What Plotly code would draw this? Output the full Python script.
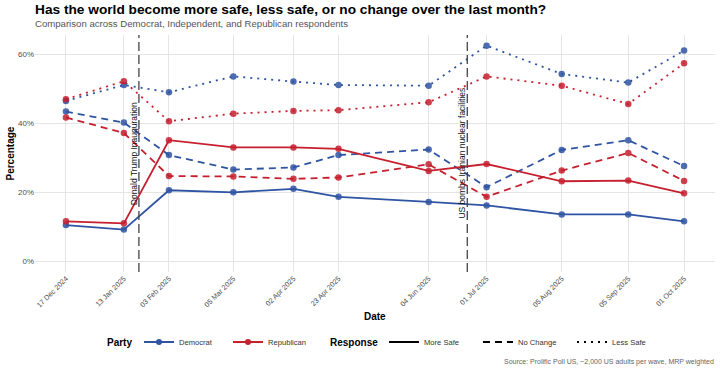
import plotly.graph_objects as go

dates = ["2024-12-17", "2025-01-13", "2025-02-03", "2025-03-05", "2025-04-02", "2025-04-23",
         "2025-06-04", "2025-07-01", "2025-08-05", "2025-09-05", "2025-10-01"]
tick_labels = ["17 Dec 2024", "13 Jan 2025", "03 Feb 2025", "05 Mar 2025", "02 Apr 2025", "23 Apr 2025",
               "04 Jun 2025", "01 Jul 2025", "05 Aug 2025", "05 Sep 2025", "01 Oct 2025"]

dem_more_safe = [10.5, 9.2, 20.6, 20.0, 21.0, 18.7, 17.2, 16.2, 13.6, 13.6, 11.6]
dem_no_change = [43.4, 40.2, 30.8, 26.6, 27.2, 30.8, 32.4, 21.5, 32.3, 35.1, 27.6]
dem_less_safe = [46.5, 51.1, 49.0, 53.6, 52.1, 51.1, 50.9, 62.5, 54.3, 51.8, 61.1]

rep_more_safe = [11.6, 11.0, 35.1, 33.0, 33.0, 32.6, 26.2, 28.2, 23.2, 23.4, 19.7]
rep_no_change = [41.7, 37.2, 24.7, 24.6, 23.9, 24.3, 28.1, 18.7, 26.3, 31.4, 23.3]
rep_less_safe = [47.0, 52.2, 40.6, 42.8, 43.6, 43.8, 46.1, 53.6, 50.9, 45.6, 57.4]

events = [("2025-01-20", "Donald Trump Inauguration"),
          ("2025-06-22", "US bombs Iranian nuclear facilities")]

BLUE = "#2F54A3"
RED = "#C61F2E"
BLUE_M = "rgba(47,84,163,0.85)"
RED_M = "rgba(198,31,46,0.85)"
FONT = "Liberation Sans, Arial, sans-serif"

dash_map = {"More Safe": "solid", "No Change": "7px,5px", "Less Safe": "2px,5px"}

fig = go.Figure()

series = [
    ("Democrat", "More Safe", dem_more_safe, BLUE, BLUE_M),
    ("Democrat", "No Change", dem_no_change, BLUE, BLUE_M),
    ("Democrat", "Less Safe", dem_less_safe, BLUE, BLUE_M),
    ("Republican", "More Safe", rep_more_safe, RED, RED_M),
    ("Republican", "No Change", rep_no_change, RED, RED_M),
    ("Republican", "Less Safe", rep_less_safe, RED, RED_M),
]

for party, resp, vals, col, mcol in series:
    fig.add_trace(go.Scatter(
        x=dates, y=vals, mode="lines",
        line=dict(color=col, width=1.8, dash=dash_map[resp]),
        showlegend=False, hoverinfo="skip"))
for party, resp, vals, col, mcol in series:
    fig.add_trace(go.Scatter(
        x=dates, y=vals, mode="markers",
        marker=dict(color=mcol, size=6.5, line=dict(width=0)),
        showlegend=False, name=f"{party} - {resp}"))

for party, col in [("Democrat", BLUE), ("Republican", RED)]:
    fig.add_trace(go.Scatter(
        x=[None], y=[None], mode="lines+markers", name=party,
        line=dict(color=col, width=1.8), marker=dict(color=col, size=6),
        legend="legend"))
for resp in ["More Safe", "No Change", "Less Safe"]:
    fig.add_trace(go.Scatter(
        x=[None], y=[None], mode="lines", name=resp,
        line=dict(color="black", width=1.8, dash=dash_map[resp]),
        legend="legend2"))

for d, label in events:
    fig.add_shape(type="line", x0=d, x1=d, xref="x", y0=0, y1=1, yref="paper",
                  line=dict(color="#444444", width=1.3, dash="9px,4px"))
    fig.add_annotation(x=d, y=31.3, xref="x", yref="y", text=label, textangle=-90,
                       showarrow=False, xanchor="right", yanchor="middle", xshift=2,
                       font=dict(family=FONT, size=8.5, color="#111111"))

PH = 237.0  # plot height in px (t=35, b=98)
PW = 680.0

def py(px_y):
    return (272 - px_y) / PH

def px(px_x):
    return (px_x - 35) / PW

fig.update_layout(
    width=720, height=370,
    margin=dict(l=35, r=5, t=35, b=98, autoexpand=False),
    paper_bgcolor="white", plot_bgcolor="white",
    font=dict(family=FONT),
    xaxis=dict(type="date", range=["2024-12-02 14:00", "2025-10-15 10:00"],
               tickvals=dates, ticktext=tick_labels, tickangle=-45,
               tickfont=dict(size=7.2, color="#4D4D4D"),
               showgrid=True, gridcolor="#E5E5E5", gridwidth=1, zeroline=False,
               showline=False, ticks="", automargin=False),
    yaxis=dict(range=[-3.1, 65.6], tickvals=[0, 20, 40, 60], ticktext=["0%", "20%", "40%", "60%"],
               tickfont=dict(size=8, color="#4D4D4D"),
               showgrid=True, gridcolor="#E5E5E5", gridwidth=1, zeroline=False,
               showline=False, ticks="", automargin=False),
    legend=dict(orientation="h", xref="container", yref="container",
                x=139 / 720, y=1 - 342 / 370,
                xanchor="left", yanchor="middle",
                font=dict(size=7.6, color="#333333"), entrywidth=44,
                bgcolor="rgba(0,0,0,0)"),
    legend2=dict(orientation="h", xref="container", yref="container",
                 x=384 / 720, y=1 - 342 / 370,
                 xanchor="left", yanchor="middle",
                 font=dict(size=7.6, color="#333333"), entrywidth=49,
                 bgcolor="rgba(0,0,0,0)"),
)

for txt, x0 in [("<b>Party</b>", 105), ("<b>Response</b>", 328)]:
    fig.add_annotation(text=txt, xref="paper", yref="paper", x=px(x0), y=py(342),
                       xanchor="left", yanchor="middle", showarrow=False,
                       font=dict(family=FONT, size=10, color="black"))

fig.add_annotation(text="<b>Has the world become more safe, less safe, or no change over the last month?</b>",
                   xref="paper", yref="paper", x=0, y=py(10), xanchor="left", yanchor="middle",
                   showarrow=False, xshift=-2,
                   font=dict(family=FONT, size=13.7, color="black"))
fig.add_annotation(text="Comparison across Democrat, Independent, and Republican respondents",
                   xref="paper", yref="paper", x=0, y=py(24), xanchor="left", yanchor="middle",
                   showarrow=False, xshift=-2,
                   font=dict(family=FONT, size=9.6, color="#555555"))
fig.add_annotation(text="<b>Percentage</b>", textangle=-90,
                   xref="paper", yref="paper", x=0, y=0.5, xanchor="center", yanchor="middle",
                   xshift=-25, showarrow=False,
                   font=dict(family=FONT, size=10, color="black"))
fig.add_annotation(text="<b>Date</b>",
                   xref="paper", yref="paper", x=0.5, y=py(316), xanchor="center", yanchor="middle",
                   showarrow=False,
                   font=dict(family=FONT, size=10, color="black"))
fig.add_annotation(text="Source: Prolific Poll US, ~2,000 US adults per wave, MRP weighted",
                   xref="paper", yref="paper", x=1, y=py(362), xanchor="right", yanchor="middle",
                   xshift=1, showarrow=False,
                   font=dict(family=FONT, size=7.0, color="#666666"))

fig.write_html("out.html", config={"displayModeBar": False},
               post_script="document.body.style.margin='0px';")
